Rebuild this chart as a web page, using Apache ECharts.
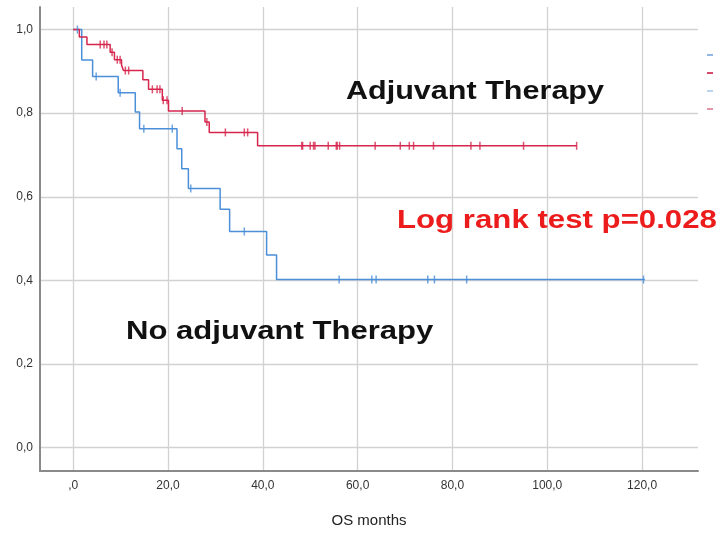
<!DOCTYPE html>
<html>
<head>
<meta charset="utf-8">
<script src="https://cdn.jsdelivr.net/npm/echarts@6/dist/echarts.min.js"></script>
<style>
html,body{margin:0;padding:0;background:#fff;}
#chart{width:720px;height:533px;}
</style>
</head>
<body>
<div id="chart"></div>
<script>
// ---- Data ----
const xTickValues = [0, 20, 40, 60, 80, 100, 120];
const yTickValues = [0, 0.2, 0.4, 0.6, 0.8, 1.0];

// Adjuvant therapy (red): event times and survival after each event
const redTime = [0, 1.3, 2.9, 7.8, 8.7, 10.2, 10.6, 14.7, 15.9, 18.8, 20.1, 27.8, 28.7, 38.9, 106.2];
const redSurv = [1.0, 0.982, 0.964, 0.946, 0.928, 0.915, 0.902, 0.880, 0.857, 0.831, 0.805, 0.779, 0.754, 0.722, 0.722];
// censored observations (red)
const redCensorTime = [5.7, 6.5, 7.1, 8.2, 9.3, 9.9, 11.0, 11.7, 16.7, 17.7, 18.3, 19.0, 19.8, 23.0, 28.2, 32.1, 36.1, 36.8,
  48.2, 48.4, 50.0, 50.7, 51.0, 53.8, 55.5, 55.7, 56.2, 63.7, 69.0, 70.9, 71.8, 76.0, 83.9, 85.8, 95.0, 106.2];
const redCensorSurv = [0.964, 0.964, 0.964, 0.946, 0.928, 0.928, 0.902, 0.902, 0.857, 0.857, 0.857, 0.831, 0.831, 0.805, 0.779, 0.754, 0.754, 0.754,
  0.722, 0.722, 0.722, 0.722, 0.722, 0.722, 0.722, 0.722, 0.722, 0.722, 0.722, 0.722, 0.722, 0.722, 0.722, 0.722, 0.722, 0.722];

// No adjuvant therapy (blue)
const blueTime = [0, 1.8, 4.1, 9.5, 13.1, 14.0, 21.9, 22.9, 24.3, 31.0, 33.0, 40.8, 42.9, 120.6];
const blueSurv = [1.0, 0.927, 0.888, 0.849, 0.803, 0.763, 0.715, 0.667, 0.620, 0.570, 0.517, 0.461, 0.402, 0.402];
const blueCensorTime = [0.9, 4.85, 9.9, 14.9, 20.9, 24.8, 36.1, 56.1, 63.0, 63.9, 74.8, 76.2, 83.0, 120.3];
const blueCensorSurv = [1.0, 0.888, 0.849, 0.763, 0.763, 0.620, 0.517, 0.402, 0.402, 0.402, 0.402, 0.402, 0.402, 0.402];

const seriesNames = ['0', '1', '0-censored', '1-censored'];

// ---- Chart ----
const zip = (a, b) => a.map((v, i) => [v, b[i]]);
const RED = '#d6264d';
const BLUE = '#4b8fd9';
const FONT = "'Liberation Sans', Arial, sans-serif";

const chart = echarts.init(document.getElementById('chart'), null, {renderer: 'canvas'});
chart.setOption({
  animation: false,
  backgroundColor: '#ffffff',
  grid: {left: 40, right: 22, top: 7, bottom: 60},
  xAxis: {
    type: 'value', min: -7, max: 131.8,
    name: 'OS months', nameLocation: 'middle', nameGap: 42,
    nameTextStyle: {fontFamily: FONT, fontSize: 15, color: '#222'},
    axisLine: {show: true, onZero: false, lineStyle: {color: '#8a8a8a', width: 2}},
    axisTick: {show: false, customValues: xTickValues},
    axisLabel: {customValues: xTickValues, margin: 9, fontFamily: FONT, fontSize: 12, color: '#333',
      formatter: v => (v === 0 ? ',0' : v.toFixed(1).replace('.', ','))},
    splitLine: {show: true, lineStyle: {color: '#d2d2d2', width: 1.3}}
  },
  yAxis: {
    type: 'value', min: -0.056, max: 1.054,
    axisLine: {show: true, onZero: false, lineStyle: {color: '#8a8a8a', width: 2}},
    axisTick: {show: false, customValues: yTickValues},
    axisLabel: {customValues: yTickValues, margin: 7, fontFamily: FONT, fontSize: 12, color: '#333',
      formatter: v => v.toFixed(1).replace('.', ',')},
    splitLine: {show: true, lineStyle: {color: '#d2d2d2', width: 1.3}}
  },
  legend: {
    orient: 'vertical', left: 702, top: 49, itemWidth: 6, itemHeight: 2, itemGap: 16, icon: 'rect',
    formatter: () => '',
    data: [
      {name: seriesNames[0], itemStyle: {color: '#8fb8e6'}},
      {name: seriesNames[1], itemStyle: {color: '#d84a6a'}},
      {name: seriesNames[2], itemStyle: {color: '#a9c8ea'}},
      {name: seriesNames[3], itemStyle: {color: '#e07a92'}}
    ]
  },
  series: [
    {name: seriesNames[0], type: 'line', step: 'end', showSymbol: false, data: zip(blueTime, blueSurv),
      lineStyle: {color: BLUE, width: 1.5}, itemStyle: {color: BLUE}, z: 3},
    {name: seriesNames[1], type: 'line', step: 'end', showSymbol: false, data: zip(redTime, redSurv),
      lineStyle: {color: RED, width: 1.5}, itemStyle: {color: RED}, z: 4},
    {name: seriesNames[2], type: 'scatter', symbol: 'rect', symbolSize: [1.5, 8], data: zip(blueCensorTime, blueCensorSurv),
      itemStyle: {color: BLUE}, z: 5},
    {name: seriesNames[3], type: 'scatter', symbol: 'rect', symbolSize: [1.5, 8], data: zip(redCensorTime, redCensorSurv),
      itemStyle: {color: RED}, z: 6}
  ],
  graphic: [
    {type: 'text', x: 346, y: 91.4, scaleX: 1.175, z: 10,
      style: {text: 'Adjuvant Therapy', x: 0, y: 0, align: 'left', verticalAlign: 'middle',
        font: "bold 26px 'Liberation Sans', Arial, sans-serif", fill: '#111'}},
    {type: 'text', x: 397, y: 221, scaleX: 1.2, z: 10,
      style: {text: 'Log rank test p=0.028', x: 0, y: 0, align: 'left', verticalAlign: 'middle',
        font: "bold 26px 'Liberation Sans', Arial, sans-serif", fill: '#ec1c1c'}},
    {type: 'text', x: 126, y: 332, scaleX: 1.195, z: 10,
      style: {text: 'No adjuvant Therapy', x: 0, y: 0, align: 'left', verticalAlign: 'middle',
        font: "bold 26px 'Liberation Sans', Arial, sans-serif", fill: '#111'}}
  ]
});
</script>
</body>
</html>
